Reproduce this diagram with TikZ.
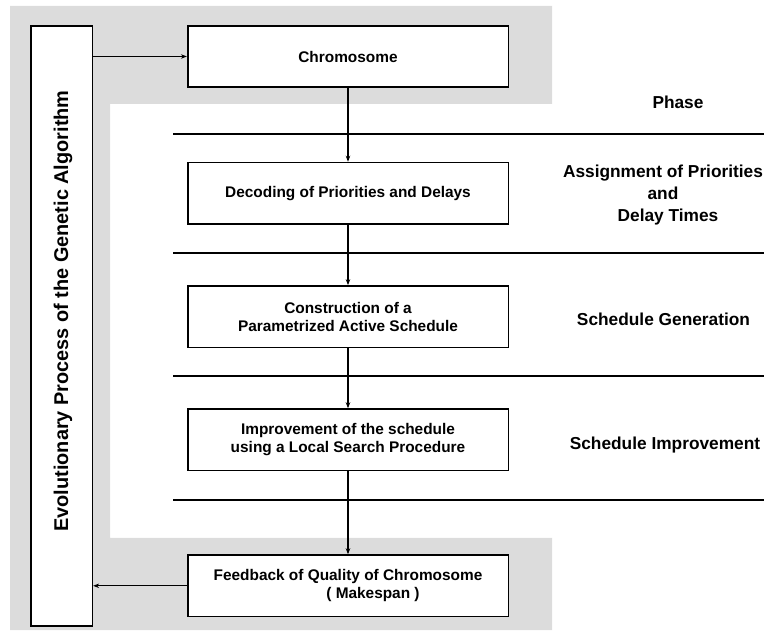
\documentclass[tikz,border=0pt]{standalone}
\usepackage{fontspec}
\setmainfont{Liberation Sans}
\usetikzlibrary{arrows.meta}
\definecolor{bandgray}{RGB}{220,220,220}
\begin{document}
\begin{tikzpicture}[x=1pt,y=-1pt,
  box/.style={draw,line width=1.6pt,fill=white,inner sep=0pt,minimum width=320.6pt,minimum height=61.5pt,align=center,font=\fontsize{15.4}{18}\selectfont\bfseries},
  evobox/.style={draw,line width=1.6pt,fill=white,inner sep=0pt,minimum width=61.6pt,minimum height=600pt},
  flow/.style={line width=1.3pt,-{Stealth[length=6pt,width=4.5pt]}},
  phaseline/.style={line width=1.8pt},
  phaselabel/.style={align=center,font=\fontsize{17.3}{21.8}\selectfont\bfseries}]
\useasboundingbox (0,0) rectangle (764,636);
% grey band
\fill[bandgray] (10,6) -- (552,6) -- (552,104) -- (110,104) -- (110,538) -- (552,538) -- (552,630) -- (10,630) -- cycle;
% phase separator lines
\coordinate (l1a) at (173,134); \coordinate (l1b) at (764,134);
\coordinate (l2a) at (173,253); \coordinate (l2b) at (764,253);
\coordinate (l3a) at (173,376); \coordinate (l3b) at (764,376);
\coordinate (l4a) at (173,500); \coordinate (l4b) at (764,500);
\draw[phaseline] (l1a) -- (l1b);
\draw[phaseline] (l2a) -- (l2b);
\draw[phaseline] (l3a) -- (l3b);
\draw[phaseline] (l4a) -- (l4b);
% boxes
\node[evobox] (evo) at (61.5,325.8) {};
\node[rotate=90,font=\fontsize{19.9}{22}\selectfont\bfseries] (evotext) at (63,311) {Evolutionary Process of the Genetic Algorithm};
\node[box] (chrom) at (348,56.5) {Chromosome};
\node[box] (dec) at (348,193.3) {Decoding of Priorities and Delays};
\node[box] (con) at (348,316.7) {Construction of a\\Parametrized Active Schedule};
\node[box] (imp) at (348,439.8) {Improvement of the schedule\\using a Local Search Procedure};
\node[box] (fb) at (348,585.8) {Feedback of Quality of Chromosome\\\hspace*{50pt}( Makespan )};
% connectors
\draw[flow] (chrom.west -| evo.east) -- (chrom.west);
\draw[flow] (chrom.south) -- (dec.north);
\draw[flow] (dec.south) -- (con.north);
\draw[flow] (con.south) -- (imp.north);
\draw[flow] (imp.south) -- (fb.north);
\draw[flow] (fb.west) -- (fb.west -| evo.east);
% phase labels
\node[phaselabel] (ph) at (678,102) {Phase};
\node[phaselabel] (ph1) at (663,195) {Assignment of Priorities\\and\\\hspace*{10pt}Delay Times};
\node[phaselabel] (ph2) at (663.5,319) {Schedule Generation};
\node[phaselabel] (ph3) at (665,445) {Schedule Improvement};
\end{tikzpicture}
\end{document}
